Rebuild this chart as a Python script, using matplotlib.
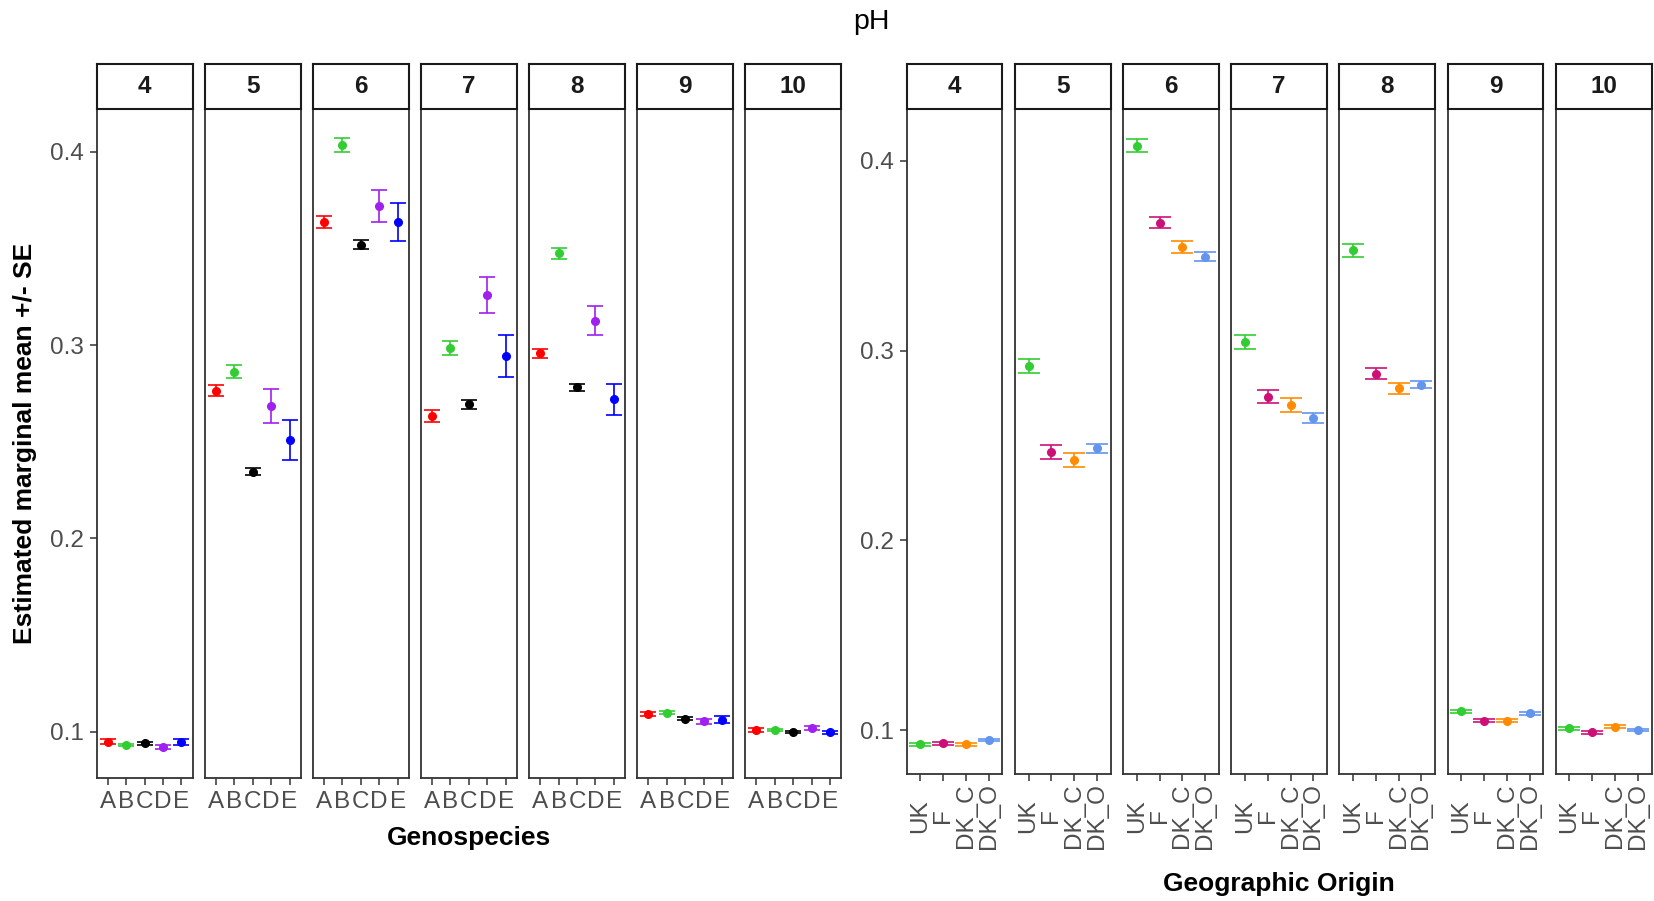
import matplotlib
matplotlib.use('Agg')
import matplotlib.pyplot as plt
import numpy as np

plt.rcParams['font.family'] = ['Liberation Sans', 'DejaVu Sans']

# facet levels
ph_levels = ['4', '5', '6', '7', '8', '9', '10']

# left block: genospecies
genospecies = ['A', 'B', 'C', 'D', 'E']
geno_colors = ['#FF0000', '#32CD32', '#000000', '#A020F0', '#0000FF']
geno_mean = [
    [0.0948, 0.0931, 0.0940, 0.0919, 0.0947],
    [0.2764, 0.2862, 0.2345, 0.2684, 0.2509],
    [0.3638, 0.4036, 0.3519, 0.3719, 0.3638],
    [0.2633, 0.2986, 0.2693, 0.3259, 0.2942],
    [0.2957, 0.3474, 0.2781, 0.3126, 0.2719],
    [0.1092, 0.1098, 0.1066, 0.1055, 0.1061],
    [0.1009, 0.1009, 0.0998, 0.1019, 0.0997],
]
geno_se = [
    [0.0012, 0.0007, 0.0008, 0.0010, 0.0014],
    [0.0027, 0.0033, 0.0019, 0.0089, 0.0102],
    [0.0032, 0.0036, 0.0022, 0.0085, 0.0098],
    [0.0032, 0.0035, 0.0024, 0.0093, 0.0108],
    [0.0022, 0.0028, 0.0018, 0.0076, 0.0080],
    [0.0009, 0.0008, 0.0008, 0.0013, 0.0018],
    [0.0008, 0.0007, 0.0007, 0.0012, 0.0009],
]

# right block: geographic origin
origins = ['UK', 'F', 'DK_C', 'DK_O']
origin_colors = ['#32CD32', '#CD1076', '#FF8C00', '#6495ED']
origin_mean = [
    [0.0926, 0.0930, 0.0926, 0.0947],
    [0.2921, 0.2467, 0.2422, 0.2485],
    [0.4081, 0.3675, 0.3548, 0.3496],
    [0.3047, 0.2758, 0.2715, 0.2645],
    [0.3529, 0.2877, 0.2803, 0.2821],
    [0.1100, 0.1049, 0.1049, 0.1088],
    [0.1009, 0.0989, 0.1018, 0.1000],
]
origin_se = [
    [0.0008, 0.0007, 0.0008, 0.0006],
    [0.0037, 0.0038, 0.0037, 0.0025],
    [0.0033, 0.0029, 0.0032, 0.0024],
    [0.0037, 0.0033, 0.0036, 0.0024],
    [0.0033, 0.0029, 0.0029, 0.0020],
    [0.0008, 0.0007, 0.0007, 0.0008],
    [0.0007, 0.0008, 0.0008, 0.0006],
]

W, H = 1654, 901
fig = plt.figure(figsize=(W / 100, H / 100), dpi=100)


def box(x0, x1, y0, y1):
    # pixel box (top-left origin) -> figure fraction rect
    return [x0 / W, 1 - y1 / H, (x1 - x0) / W, (y1 - y0) / H]


TICK_COL = '#4D4D4D'
LINE_COL = '#333333'


def draw_block(left0, step, width, top, bottom, ylim, cats, means, ses, colors, capsize, rotate):
    axes = []
    for i, ph in enumerate(ph_levels):
        x0 = left0 + i * step
        ax = fig.add_axes(box(x0, x0 + width, top, bottom))
        xs = np.arange(1, len(cats) + 1)
        for j in range(len(cats)):
            ax.errorbar(xs[j], means[i][j], yerr=ses[i][j], fmt='o', color=colors[j],
                        ms=5.5, lw=1.2, capsize=capsize, capthick=1.2)
        ax.set_xlim(0.4, len(cats) + 0.6)
        ax.set_ylim(*ylim)
        for s in ax.spines.values():
            s.set_color(LINE_COL)
            s.set_linewidth(1.3)
        ax.set_xticks(xs)
        ax.tick_params(axis='both', colors=LINE_COL, labelcolor=TICK_COL, length=5,
                       width=1.1, labelsize=17.5, pad=4.5)
        if rotate:
            ax.set_xticklabels(cats, rotation=90)
            for lbl in ax.get_xticklabels():
                lbl.set_va('center')
                lbl.set_ha('center')
            ax.tick_params(axis='x', pad=25)
        else:
            ax.set_xticklabels(cats)
        if i == 0:
            ax.set_yticks([0.1, 0.2, 0.3, 0.4])
            ax.set_yticklabels(['0.1', '0.2', '0.3', '0.4'])
        else:
            ax.set_yticks([])
        # strip on top
        sax = fig.add_axes(box(x0, x0 + width, 64, top))
        sax.set_xticks([])
        sax.set_yticks([])
        for s in sax.spines.values():
            s.set_color('#1A1A1A')
            s.set_linewidth(1.5)
        sax.text(0.5, 0.5, ph, ha='center', va='center', fontsize=17.5,
                 fontweight='bold', color='#1A1A1A', transform=sax.transAxes)
        axes.append(ax)
    return axes


draw_block(96.7, 108.1, 95.8, 109, 778, (0.07605, 0.4221), genospecies,
           geno_mean, geno_se, geno_colors, 6.0, False)
draw_block(906.7, 108.17, 95.8, 109, 774.3, (0.07665, 0.4274), origins,
           origin_mean, origin_se, origin_colors, 7.8, True)

fig.text(871 / W, 1 - 22 / H, 'pH', ha='center', va='center', fontsize=20.5)
fig.text(25 / W, 1 - 443 / H, 'Estimated marginal mean +/- SE', rotation=90,
         ha='center', va='center', fontsize=19, fontweight='bold')
fig.text(469 / W, 1 - 838 / H, 'Genospecies', ha='center', va='center',
         fontsize=19, fontweight='bold')
fig.text(1279 / W, 1 - 884 / H, 'Geographic Origin', ha='center', va='center',
         fontsize=19, fontweight='bold')

fig.savefig('out.png', dpi=100)
